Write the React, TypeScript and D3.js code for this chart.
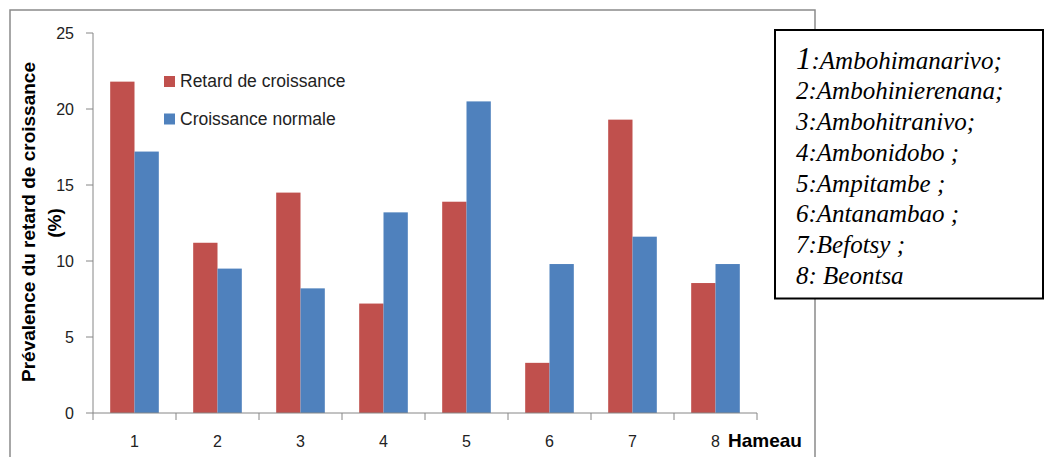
import React from "react";
import * as d3 from "d3";

const categories = ["1", "2", "3", "4", "5", "6", "7", "8"];
const retard = [21.8, 11.2, 14.5, 7.2, 13.9, 3.3, 19.3, 8.55];
const normale = [17.2, 9.5, 8.2, 13.2, 20.5, 9.8, 11.6, 9.8];
const seriesNames = ["Retard de croissance", "Croissance normale"];
const seriesColors = ["#C0504D", "#4F81BD"];
const yTicks = [0, 5, 10, 15, 20, 25];
const hameaux = [
  "Ambohimanarivo;",
  "Ambohinierenana;",
  "Ambohitranivo;",
  "Ambonidobo ;",
  "Ampitambe ;",
  "Antanambao ;",
  "Befotsy ;",
  " Beontsa",
];

export default function App() {
  const W = 1046, H = 457;
  const left = 93, right = 757, top = 33, bottom = 413;
  const x = d3.scaleBand<string>().domain(categories).range([left, right]).padding(0);
  const inner = d3.scaleBand<number>().domain([0, 1]).range([0, x.bandwidth()]).paddingOuter(0.707).paddingInner(0);
  const y = d3.scaleLinear().domain([0, 25]).range([bottom, top]);
  const series = [retard, normale];
  const sans = "'Liberation Sans', Arial, sans-serif";
  const serif = "'Liberation Serif', 'Times New Roman', serif";
  const axisColor = "#868686";
  const boundaries = categories.map((c) => x(c)!).concat([right]);

  return (
    <svg width={W} height={H} style={{ position: "absolute", left: 0, top: 0, background: "#fff" }}>
      <rect x={0} y={0} width={W} height={H} fill="#fff" />
      {/* chart frame */}
      <rect x={10} y={10} width={805} height={470} fill="none" stroke="#8a8a8a" strokeWidth={1.5} />
      {/* bars */}
      {series.map((vals, si) =>
        vals.map((v, i) => (
          <rect
            key={si + "-" + i}
            x={x(categories[i])! + inner(si)!}
            y={y(v)}
            width={inner.bandwidth()}
            height={y(0) - y(v)}
            fill={seriesColors[si]}
          />
        ))
      )}
      {/* y axis */}
      <line x1={left} x2={left} y1={top} y2={bottom} stroke={axisColor} strokeWidth={1} />
      {yTicks.map((t) => (
        <g key={t}>
          <line x1={left - 7} x2={left} y1={y(t)} y2={y(t)} stroke={axisColor} />
          <text x={74} y={y(t) + 6} textAnchor="end" fontFamily={sans} fontSize={16} fill="#222">
            {t}
          </text>
        </g>
      ))}
      {/* x axis */}
      <line x1={left} x2={right} y1={bottom} y2={bottom} stroke={axisColor} strokeWidth={1} />
      {boundaries.map((b, i) => (
        <line key={i} x1={b} x2={b} y1={bottom} y2={bottom + 7} stroke={axisColor} />
      ))}
      {categories.map((c) => (
        <text key={c} x={x(c)! + x.bandwidth() / 2} y={447} textAnchor="middle" fontFamily={sans} fontSize={16} fill="#222">
          {c}
        </text>
      ))}
      <text x={728} y={447} fontFamily={sans} fontSize={19} fontWeight="bold" fill="#000">
        Hameau
      </text>
      {/* y title */}
      <text transform="translate(35,222) rotate(-90)" textAnchor="middle" fontFamily={sans} fontSize={19} fontWeight="bold" fill="#000">
        Prévalence du retard de croissance
      </text>
      <text transform="translate(61,223) rotate(-90)" textAnchor="middle" fontFamily={sans} fontSize={19} fontWeight="bold" fill="#000">
        (%)
      </text>
      {/* legend */}
      {seriesNames.map((n, i) => (
        <g key={n}>
          <rect x={164} y={76 + i * 37.5} width={11} height={11} fill={seriesColors[i]} />
          <text x={180} y={87 + i * 37.5} fontFamily={sans} fontSize={17.5} fill="#222">
            {n}
          </text>
        </g>
      ))}
      {/* hamlet names box */}
      <rect x={775} y={30} width={268} height={268.5} fill="#fff" stroke="#000" strokeWidth={2} />
      {hameaux.map((h, i) => (
        <text key={i} x={796} y={68.7 + i * 30.7} fontFamily={serif} fontStyle="italic" fontSize={25} fill="#000">
          <tspan fontSize={i === 0 ? 31 : 25}>{i + 1}</tspan>
          {":" + h}
        </text>
      ))}
    </svg>
  );
}
